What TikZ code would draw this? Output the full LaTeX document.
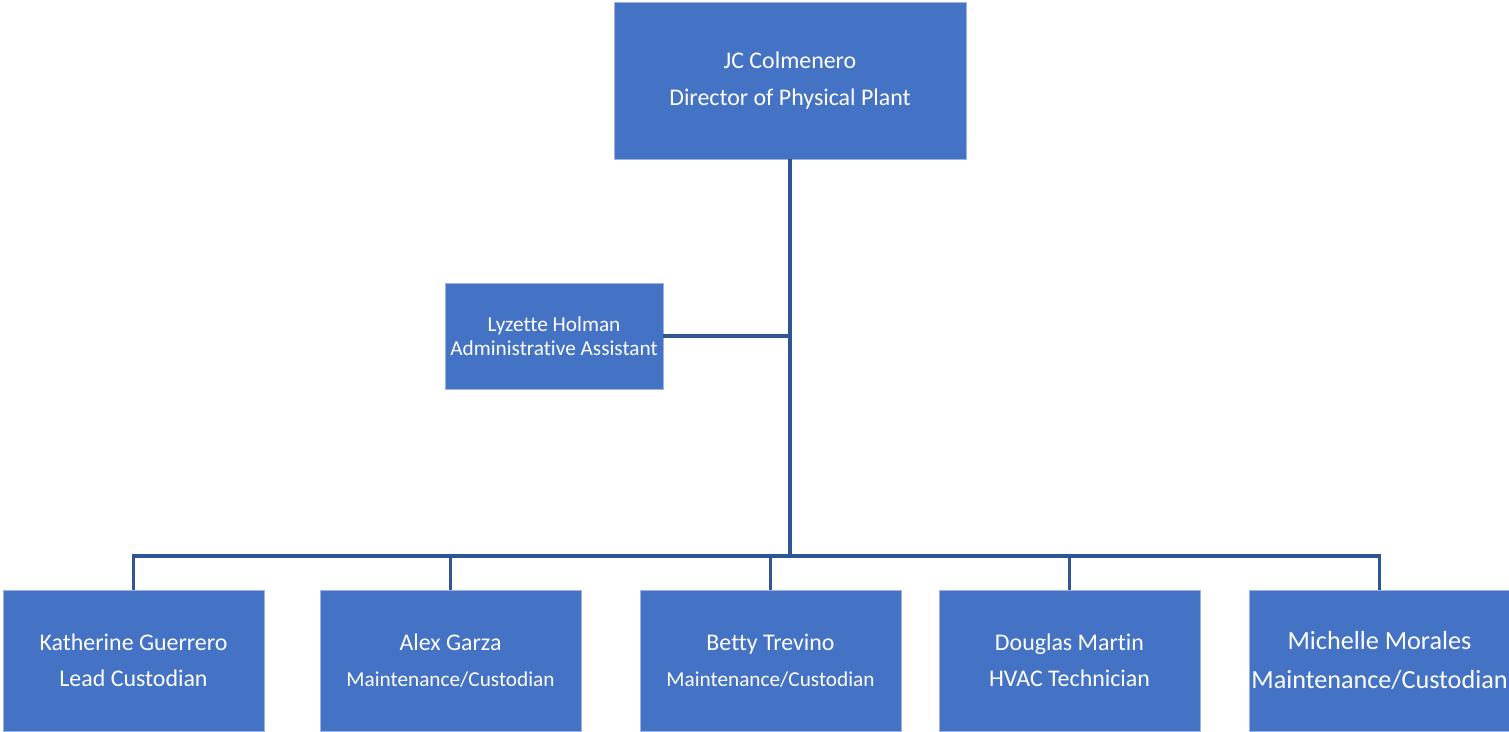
\documentclass[tikz,border=0pt]{standalone}
\usepackage{fontspec}
\setmainfont{Carlito}[Ligatures=NoCommon]
\usepackage{tikz}
\usetikzlibrary{positioning}
\definecolor{boxblue}{HTML}{4472C4}
\definecolor{boxedge}{HTML}{9DB4E0}
\definecolor{linkblue}{HTML}{2F5597}
\newcommand{\role}[1]{{\fontsize{12.1}{14}\selectfont #1}}

\begin{document}
\begin{tikzpicture}[
            box/.style={rectangle, fill=boxblue, draw=boxedge, line width=0.4pt, text=white, align=center, inner sep=0pt, outer sep=0pt},
            head/.style={box, minimum width=7.04cm, minimum height=3.14cm, font=\fontsize{13.6}{21}\selectfont},
            assistant/.style={box, minimum width=4.36cm, minimum height=2.12cm, font=\fontsize{12.1}{13.6}\selectfont},
            staff/.style={box, minimum width=5.22cm, minimum height=2.82cm, font=\fontsize{13.6}{20.4}\selectfont},
            link/.style={draw=linkblue, line width=1.8pt},
        ]
            \useasboundingbox (0,0) rectangle (30.18,-14.64);

            % Direccion
            \node[head] (director) at (15.80,-1.61) {JC Colmenero\\Director of Physical Plant};
            \node[assistant] (lyzette) at (11.08,-6.72) {Lyzette Holman\\Administrative Assistant};

            % Personal
            \node[staff] (katherine) at (2.67,-13.21) {Katherine Guerrero\\Lead Custodian};
            \node[staff, right=1.12cm of katherine] (alex) {Alex Garza\\\role{Maintenance/Custodian}};
            \node[staff, right=1.18cm of alex] (betty) {Betty Trevino\\\role{Maintenance/Custodian}};
            \node[staff, right=0.76cm of betty] (douglas) {Douglas Martin\\HVAC Technician};
            \node[staff, right=0.98cm of douglas, font=\fontsize{14.9}{22.7}\selectfont] (michelle) {Michelle Morales\\Maintenance/Custodian};

            % Conexiones
            \coordinate (hub) at (15.80,-11.12);
            \draw[link] (director.south) -- (hub);
            \draw[link] (lyzette.east) -- (lyzette.east -| director.south);
            \draw[link] (hub) -| (katherine.north);
            \draw[link] (hub) -| (alex.north);
            \draw[link] (hub) -| (betty.north);
            \draw[link] (hub) -| (douglas.north);
            \draw[link] (hub) -| (michelle.north);
        \end{tikzpicture}
\end{document}
